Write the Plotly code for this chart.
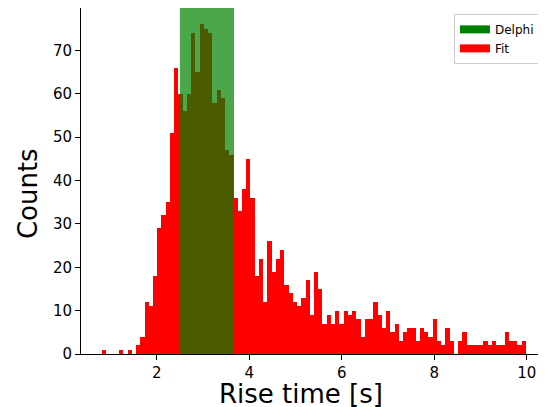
import plotly.graph_objects as go

# rise time histogram, 100 equal bins
bin_start = 0.82
bin_width = 0.0916
counts = [1, 0, 0, 0, 1, 0, 1, 0, 2, 4,
          12, 11, 18, 29, 32, 35, 51, 66, 60, 56,
          60, 74, 65, 76, 75, 74, 58, 61, 59, 47,
          46, 36, 33, 38, 45, 36, 18, 22, 12, 26,
          19, 22, 24, 16, 14, 12, 11, 13, 17, 9,
          19, 15, 7, 9, 7, 10, 7, 10, 9, 10,
          8, 4, 8, 8, 12, 9, 6, 10, 5, 7,
          3, 5, 6, 6, 3, 6, 5, 4, 8, 3,
          2, 6, 3, 0, 3, 5, 2, 2, 2, 2,
          3, 2, 3, 2, 2, 5, 3, 3, 2, 3]

# Delphi interval (shaded band)
delphi_lo = 2.50
delphi_hi = 3.67

x_ticks = [2, 4, 6, 8, 10]
y_ticks = [0, 10, 20, 30, 40, 50, 60, 70]

centers = [bin_start + bin_width * (i + 0.5) for i in range(len(counts))]

FONT = "DejaVu Sans"

fig = go.Figure()
fig.add_trace(go.Bar(x=centers, y=counts, width=bin_width, name="Fit", showlegend=False,
                     marker=dict(color="red", line=dict(width=0))))
# legend-only entries, thick lines look like matplotlib patches
fig.add_trace(go.Scatter(x=[None], y=[None], mode="lines", name="Delphi",
                         line=dict(color="green", width=8)))
fig.add_trace(go.Scatter(x=[None], y=[None], mode="lines", name="Fit",
                         line=dict(color="red", width=8)))

fig.add_shape(type="rect", xref="x", yref="paper", x0=delphi_lo, x1=delphi_hi,
              y0=0, y1=1, fillcolor="green", opacity=0.7, line_width=0, layer="above")

# axis titles as annotations so margins stay fixed
fig.add_annotation(text="Rise time [s]", xref="paper", yref="paper", x=0.473, y=-0.116,
                   xanchor="center", yanchor="middle", showarrow=False, font=dict(size=26))
fig.add_annotation(text="Counts", xref="paper", yref="paper", x=-0.114, y=0.465,
                   xanchor="center", yanchor="middle", textangle=-90, showarrow=False,
                   font=dict(size=26))

# page body adds ~8px offset, so the figure is 8px smaller than the window
fig.update_layout(
    width=538, height=399,
    margin=dict(l=73, r=0, t=0, b=53),
    plot_bgcolor="white", paper_bgcolor="white",
    barmode="overlay", bargap=0,
    font=dict(family=FONT, size=15, color="black"),
    legend=dict(x=0.987, y=0.983, xanchor="right", yanchor="top",
                bgcolor="rgba(255,255,255,0.8)", bordercolor="#cccccc", borderwidth=1,
                font=dict(size=12), traceorder="normal"),
    showlegend=True,
)
fig.update_xaxes(range=[0.362, 10.416], tickvals=x_ticks, ticks="outside", ticklen=5,
                 tickcolor="black", showline=True, linecolor="black", linewidth=1,
                 mirror=True, showgrid=False, zeroline=False, automargin=False)
fig.update_yaxes(range=[0, 79.8], tickvals=y_ticks, ticks="outside", ticklen=5,
                 tickcolor="black", showline=True, linecolor="black", linewidth=1,
                 mirror=False, showgrid=False, zeroline=False, automargin=False)

fig.write_html("out.html")
